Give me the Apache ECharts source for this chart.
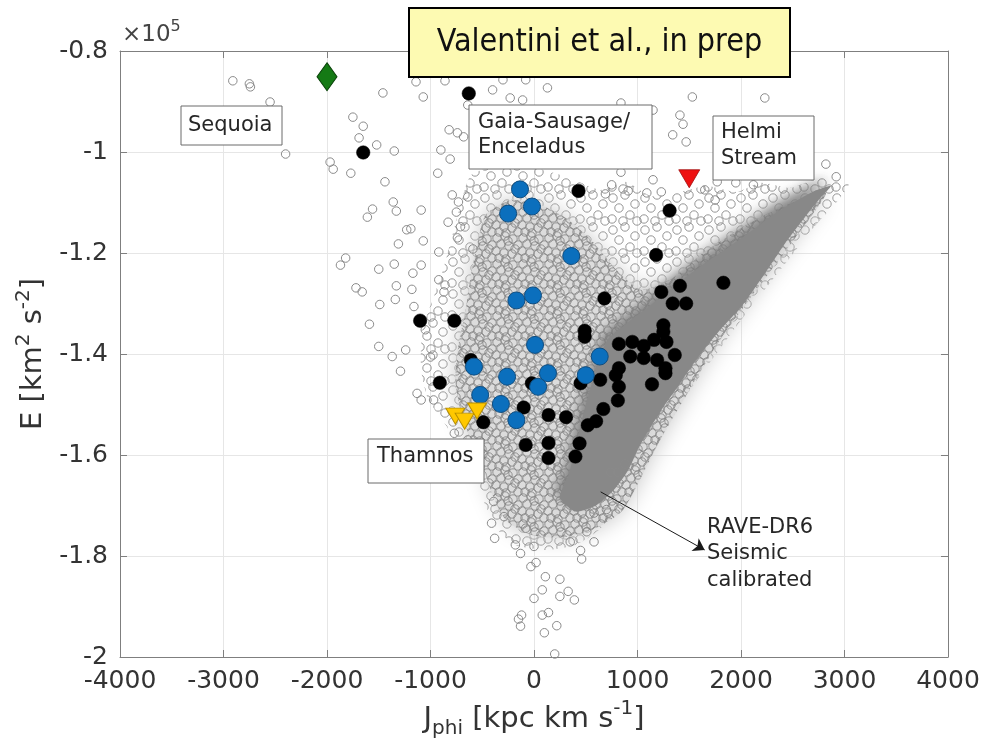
<!DOCTYPE html>
<html>
<head>
<meta charset="utf-8">
<script src="https://cdn.jsdelivr.net/npm/echarts@6/dist/echarts.min.js"></script>
<style>
html,body{margin:0;padding:0;background:#fff;}
#chart{width:986px;height:754px;}
</style>
</head>
<body>
<div id="chart"></div>
<script>
// ---------- DATA (J_phi in kpc km/s, E in units of 1e5 km^2 s^-2) ----------
const xRange = [-4000, 4000];
const eRange = [-2, -0.8];

// RAVE-DR6 seismic sample: dense core outline
const corePoly = [[2870,-1.067],[2690,-1.079],[2480,-1.103],[2290,-1.127],[2090,-1.158],[1870,-1.190],[1610,-1.226],[1370,-1.263],[1130,-1.303],[910,-1.337],[710,-1.372],[600,-1.432],[500,-1.501],[420,-1.570],[340,-1.636],[250,-1.684],[400,-1.712],[600,-1.700],[760,-1.672],[910,-1.630],[1010,-1.586],[1130,-1.544],[1250,-1.505],[1390,-1.465],[1510,-1.428],[1640,-1.392],[1800,-1.352],[2000,-1.307],[2240,-1.238],[2450,-1.174],[2610,-1.131],[2750,-1.095]];

// RAVE-DR6: outer (moderately populated) cloud outline
const cloudOuter = [[-610,-1.046],[-320,-1.026],[20,-1.032],[350,-1.051],[640,-1.075],[880,-1.059],[1130,-1.087],[1420,-1.079],[1660,-1.067],[1960,-1.079],[2190,-1.061],[2480,-1.071],[2770,-1.051],[3040,-1.063],[2940,-1.095],[2720,-1.145],[2530,-1.194],[2000,-1.333],[1510,-1.471],[1030,-1.630],[790,-1.709],[630,-1.748],[400,-1.778],[110,-1.788],[-180,-1.778],[-350,-1.748],[-470,-1.699],[-560,-1.649],[-690,-1.600],[-850,-1.541],[-1020,-1.491],[-1090,-1.432],[-1080,-1.352],[-980,-1.293],[-880,-1.234],[-800,-1.174],[-710,-1.105]];

// RAVE-DR6: inner (densely populated) cloud outline
const cloudInner = [[-470,-1.125],[-230,-1.095],[60,-1.105],[310,-1.131],[550,-1.174],[790,-1.232],[1030,-1.273],[1290,-1.257],[1610,-1.204],[1990,-1.152],[2390,-1.109],[2820,-1.081],[2580,-1.154],[1800,-1.372],[1220,-1.570],[860,-1.709],[570,-1.748],[260,-1.764],[-30,-1.758],[-270,-1.729],[-400,-1.679],[-500,-1.620],[-610,-1.570],[-710,-1.511],[-760,-1.451],[-730,-1.382],[-660,-1.313],[-610,-1.244],[-550,-1.184]];

// RAVE-DR6: individual stars in the sparse halo
const haloStars = [
[-2910,-0.859],[-2750,-0.865],[-2740,-0.871],[-2550,-0.901],[-2520,-0.962],[-2400,-1.004],[-1750,-0.931],[-1650,-0.949],[-1690,-0.972],[-1520,-0.986],[-1350,-0.998],[-1970,-1.020],[-1940,-1.034],[-1770,-1.042],[-1440,-1.059],[-1460,-0.883],[-1140,-0.861],[-1070,-0.891],[-1360,-1.099],[-1330,-1.117],[-1560,-1.113],[-1610,-1.129],[-1090,-1.115],[-1190,-1.152],[-1230,-1.154],[-1310,-1.182],[-1070,-1.176],[-1820,-1.210],[-900,-0.996],[-810,-1.014],[-930,-1.042],[-820,-0.956],[-740,-0.962],[-680,-0.970],[-790,-1.085],[-730,-1.099],[-640,-1.089],[-750,-1.119],[-710,-1.148],[-830,-1.139],[-740,-1.170],[-590,-1.192],[-920,-1.198],[-860,-0.859],[-640,-0.907],[-300,-0.857],[-80,-0.857],[130,-0.873],[-230,-0.893],[-110,-0.897],[-400,-0.877],
[840,-0.903],[1150,-0.917],[1410,-0.927],[1440,-0.945],[1340,-0.966],[1470,-0.980],[1530,-0.891],[2230,-0.893],[2820,-1.024],[2920,-1.049],[2600,-1.040],[1150,-1.055],[1230,-1.079],[1090,-1.081],[1650,-1.075],[1750,-1.095],[1950,-1.061],[2120,-1.065],[1770,-1.059],[840,-1.040],[750,-1.065],[910,-1.077],[690,-1.083],
[-1870,-1.224],[-1500,-1.232],[-1350,-1.222],[-1090,-1.224],[-1170,-1.240],[-1180,-1.272],[-1330,-1.265],[-1720,-1.269],[-1660,-1.277],[-1490,-1.302],[-1340,-1.292],[-1160,-1.306],[-1590,-1.341],[-1500,-1.385],[-1370,-1.405],[-1290,-1.434],[-1240,-1.392],[-920,-1.253],[-870,-1.277],[-1130,-1.478],[-1090,-1.491],[-970,-1.491],[-770,-1.557],[-640,-1.570],[-1050,-1.352],[-1000,-1.406],
[-530,-1.642],[-390,-1.692],[-410,-1.735],[-380,-1.765],[-290,-1.722],[-130,-1.795],[-30,-1.821],[0,-1.884],[80,-1.867],[-120,-1.917],[-130,-1.939],[100,-1.952],[-180,-1.778],[0,-1.781],[110,-1.841],[20,-1.813],[250,-1.846],[330,-1.870],[390,-1.887],[250,-1.880],[220,-1.938],[200,-1.994],[-150,-1.925],[80,-1.917],[140,-1.912],[460,-1.806],[580,-1.772],[450,-1.789],[350,-1.772],[700,-1.708],[580,-1.715],[510,-1.752],[-80,-1.745],[740,-1.634],[810,-1.634],[880,-1.618]
];

// black filled stars
const blackStars = [[-630,-0.884],[-1650,-1.001],[430,-1.077],[1310,-1.116],[1180,-1.204],[-1100,-1.334],[-770,-1.334],[-910,-1.457],[-610,-1.412],[-490,-1.535],[-100,-1.506],[-20,-1.458],[-80,-1.580],[140,-1.521],[140,-1.576],[140,-1.606],[1830,-1.259],[1410,-1.265],[1230,-1.277],[1340,-1.300],[1470,-1.300],[680,-1.290],[490,-1.354],[490,-1.366],[1250,-1.343],[820,-1.380],[950,-1.376],[1060,-1.384],[1160,-1.372],[1280,-1.376],[1250,-1.356],[930,-1.405],[1060,-1.408],[1360,-1.402],[1190,-1.412],[1270,-1.428],[1270,-1.438],[820,-1.428],[790,-1.442],[820,-1.465],[640,-1.451],[450,-1.458],[1140,-1.460],[810,-1.492],[670,-1.509],[600,-1.533],[520,-1.541],[310,-1.525],[440,-1.577],[400,-1.603]];

// blue (Gaia-Sausage/Enceladus) stars
const blueStars = [[-135,-1.074],[-20,-1.108],[-250,-1.122],[360,-1.206],[-170,-1.294],[-10,-1.284],[10,-1.382],[-580,-1.425],[-260,-1.445],[135,-1.438],[40,-1.465],[-520,-1.481],[-320,-1.499],[-170,-1.531],[635,-1.405],[500,-1.442]];

const sequoiaStars = [[-2000,-0.851]];
const helmiStars = [[1500,-1.053]];
const thamnosStars = [[-760,-1.523],[-670,-1.533],[-550,-1.513]];

// arrow pointing at the RAVE-DR6 cloud
const raveArrow = [[644,-1.673],[1649,-1.788]];

// ---------- textures ----------
function ringTile(size, rings, color) {
  const c = document.createElement('canvas');
  c.width = size; c.height = size;
  const g = c.getContext('2d');
  g.strokeStyle = color; g.lineWidth = 1;
  rings.forEach(function (r) {
    [-size, 0, size].forEach(function (dx) {
      [-size, 0, size].forEach(function (dy) {
        g.beginPath(); g.arc(r[0] + dx, r[1] + dy, 4.2, 0, Math.PI * 2); g.stroke();
      });
    });
  });
  return c;
}
const denseTile = ringTile(26, [[3,4],[11,2],[19,5],[24,11],[7,10],[15,12],[2,17],[10,19],[18,20],[24,24],[14,7],[5,24],[21,15],[12,25]], 'rgba(128,128,128,0.8)');
const sparseTile = ringTile(32, [[5,6],[17,3],[27,12],[11,16],[22,23],[4,27],[15,29],[29,29]], 'rgba(138,138,138,0.9)');

function polySeries(points, style, z) {
  return {
    type: 'custom', coordinateSystem: 'cartesian2d', xAxisIndex: 0, yAxisIndex: 0,
    data: points, silent: true, z: z, clip: true,
    renderItem: function (params, api) {
      if (params.dataIndex !== 0) return null;
      return {
        type: 'polygon',
        shape: { points: points.map(function (p) { return api.coord(p); }), smooth: 0.2 },
        style: Object.assign({ stroke: null }, style)
      };
    }
  };
}

const FONT = 'DejaVu Sans';
const axisCol = '#7f7f7f';
const txtCol = '#262626';

const chart = echarts.init(document.getElementById('chart'), null, { renderer: 'canvas' });

const ringStyle = { color: 'rgba(0,0,0,0)', borderColor: '#8a8a8a', borderWidth: 1, opacity: 1 };

chart.setOption({
  animation: false,
  backgroundColor: '#fff',
  grid: { left: 120, right: 38, top: 51, bottom: 97 },
  xAxis: [{
    type: 'value', min: xRange[0], max: xRange[1], interval: 1000,
    position: 'bottom',
    axisLine: { show: true, onZero: false, lineStyle: { color: axisCol, width: 1 } },
    axisTick: { show: true, inside: true, length: 7, lineStyle: { color: axisCol } },
    axisLabel: { show: true, fontFamily: FONT, fontSize: 25, color: '#333', margin: 12,
      formatter: function (v) { return String(Math.round(v)); } },
    splitLine: { show: true, lineStyle: { color: '#e6e6e6', width: 1 } },
    name: '{n|J}{sub|phi}{n| [kpc km s}{sup|-1}{n|]}',
    nameLocation: 'middle', nameGap: 42,
    nameTextStyle: {
      fontFamily: FONT, color: '#333',
      rich: {
        n: { fontFamily: FONT, fontSize: 29, color: '#333', lineHeight: 40 },
        sub: { fontFamily: FONT, fontSize: 20, color: '#333', lineHeight: 20, verticalAlign: 'bottom' },
        sup: { fontFamily: FONT, fontSize: 20, color: '#333', lineHeight: 20, verticalAlign: 'top' }
      }
    }
  }, {
    type: 'value', min: xRange[0], max: xRange[1], interval: 1000,
    position: 'top',
    axisLine: { show: true, onZero: false, lineStyle: { color: axisCol, width: 1 } },
    axisTick: { show: true, inside: true, length: 7, lineStyle: { color: axisCol } },
    axisLabel: { show: false }, splitLine: { show: false }
  }],
  yAxis: [{
    type: 'value', min: eRange[0], max: eRange[1], interval: 0.2,
    position: 'left',
    axisLine: { show: true, onZero: false, lineStyle: { color: axisCol, width: 1 } },
    axisTick: { show: true, inside: true, length: 7, lineStyle: { color: axisCol } },
    axisLabel: { show: true, fontFamily: FONT, fontSize: 25, color: '#333', margin: 12,
      formatter: function (v) { return String(parseFloat(v.toFixed(1))); } },
    splitLine: { show: true, lineStyle: { color: '#e6e6e6', width: 1 } },
    name: '{n|E [km}{sup|2}{n| s}{sup|-2}{n|]}',
    nameLocation: 'middle', nameRotate: 90, nameGap: 64,
    nameTextStyle: {
      fontFamily: FONT, color: '#333',
      rich: {
        n: { fontFamily: FONT, fontSize: 29, color: '#333', lineHeight: 40 },
        sup: { fontFamily: FONT, fontSize: 20, color: '#333', lineHeight: 20, verticalAlign: 'top' }
      }
    }
  }, {
    type: 'value', min: eRange[0], max: eRange[1], interval: 0.2,
    position: 'right',
    axisLine: { show: true, onZero: false, lineStyle: { color: axisCol, width: 1 } },
    axisTick: { show: true, inside: true, length: 7, lineStyle: { color: axisCol } },
    axisLabel: { show: false }, splitLine: { show: false }
  }],
  series: [
    polySeries(cloudOuter, { fill: { image: sparseTile, repeat: 'repeat' } }, 1),
    polySeries(cloudInner, { fill: '#dcdcdc', shadowBlur: 22, shadowColor: 'rgba(200,200,200,1)' }, 2),
    polySeries(cloudInner, { fill: { image: denseTile, repeat: 'repeat' } }, 2),
    polySeries(corePoly, { fill: '#888888', shadowBlur: 12, shadowOffsetX: -5, shadowOffsetY: -6, shadowColor: 'rgba(125,125,125,0.9)' }, 3),
    {
      type: 'scatter', data: haloStars, symbol: 'circle', symbolSize: 8.5, z: 4, silent: true,
      itemStyle: ringStyle,
      markLine: {
        silent: true, symbol: ['none', 'arrow'], symbolSize: 11,
        label: { show: false },
        lineStyle: { color: '#1a1a1a', width: 1, type: 'solid', opacity: 1 },
        data: [[{ coord: raveArrow[0] }, { coord: raveArrow[1] }]]
      }
    },
    {
      type: 'scatter', data: blackStars, symbol: 'circle', symbolSize: 13.5, z: 5, silent: true,
      itemStyle: { color: '#000', borderColor: '#000', borderWidth: 0.5, opacity: 1 }
    },
    {
      type: 'scatter', data: blueStars, symbol: 'circle', symbolSize: 17, z: 6, silent: true,
      itemStyle: { color: '#0b6fbd', borderColor: '#0f4d80', borderWidth: 1, opacity: 1 }
    },
    {
      type: 'scatter', data: sequoiaStars, symbol: 'diamond', symbolSize: [20, 28], z: 7, silent: true,
      itemStyle: { color: '#157a15', borderColor: '#0b430b', borderWidth: 1, opacity: 1 }
    },
    {
      type: 'scatter', data: helmiStars, symbol: 'triangle', symbolRotate: 180, symbolSize: [21, 18], z: 7, silent: true,
      itemStyle: { color: '#ee1111', borderColor: '#a00c0c', borderWidth: 0.8, opacity: 1 }
    },
    {
      type: 'scatter', data: thamnosStars, symbol: 'triangle', symbolRotate: 180, symbolSize: [19, 16], z: 7, silent: true,
      itemStyle: { color: '#ffc800', borderColor: '#b88f00', borderWidth: 1, opacity: 1 }
    }
  ],
  graphic: [
    { type: 'text', z: 100, left: 122, top: 19,
      style: { text: '{a|×10}{b|5}', rich: {
        a: { fontFamily: FONT, fontSize: 23, fill: '#444', lineHeight: 32 },
        b: { fontFamily: FONT, fontSize: 16, fill: '#444', lineHeight: 16, verticalAlign: 'top' } } } },
    { type: 'rect', z: 100, shape: { x: 409, y: 8, width: 381, height: 69 },
      style: { fill: '#fdfab2', stroke: '#000', lineWidth: 2 } },
    { type: 'text', z: 101, x: 599.5, y: 43,
      style: { text: 'Valentini et al., in prep', fontFamily: '"Liberation Sans Narrow", "DejaVu Sans Condensed", "Open Sans"', fontSize: 32, fill: '#111', align: 'center', verticalAlign: 'middle' } },
    { type: 'rect', z: 100, shape: { x: 181, y: 106, width: 101, height: 39 },
      style: { fill: '#fff', stroke: '#6a6a6a', lineWidth: 1 } },
    { type: 'text', z: 101, x: 188, y: 125.5,
      style: { text: 'Sequoia', fontFamily: FONT, fontSize: 21, fill: txtCol, align: 'left', verticalAlign: 'middle' } },
    { type: 'rect', z: 100, shape: { x: 469, y: 105, width: 183, height: 64 },
      style: { fill: '#fff', stroke: '#6a6a6a', lineWidth: 1 } },
    { type: 'text', z: 101, x: 478, y: 110.5,
      style: { text: 'Gaia-Sausage/\nEnceladus', fontFamily: FONT, fontSize: 21, lineHeight: 25, fill: txtCol, align: 'left', verticalAlign: 'top' } },
    { type: 'rect', z: 100, shape: { x: 713, y: 116, width: 101, height: 64 },
      style: { fill: '#fff', stroke: '#6a6a6a', lineWidth: 1 } },
    { type: 'text', z: 101, x: 721, y: 120,
      style: { text: 'Helmi\nStream', fontFamily: FONT, fontSize: 21, lineHeight: 26, fill: txtCol, align: 'left', verticalAlign: 'top' } },
    { type: 'rect', z: 100, shape: { x: 368, y: 439, width: 116, height: 44 },
      style: { fill: '#fff', stroke: '#6a6a6a', lineWidth: 1 } },
    { type: 'text', z: 101, x: 377, y: 457,
      style: { text: 'Thamnos', fontFamily: FONT, fontSize: 21, fill: txtCol, align: 'left', verticalAlign: 'middle' } },
    { type: 'text', z: 101, x: 707, y: 514,
      style: { text: 'RAVE-DR6\nSeismic\ncalibrated', fontFamily: FONT, fontSize: 21, lineHeight: 26.5, fill: txtCol, align: 'left', verticalAlign: 'top' } }
  ]
});
</script>
</body>
</html>
